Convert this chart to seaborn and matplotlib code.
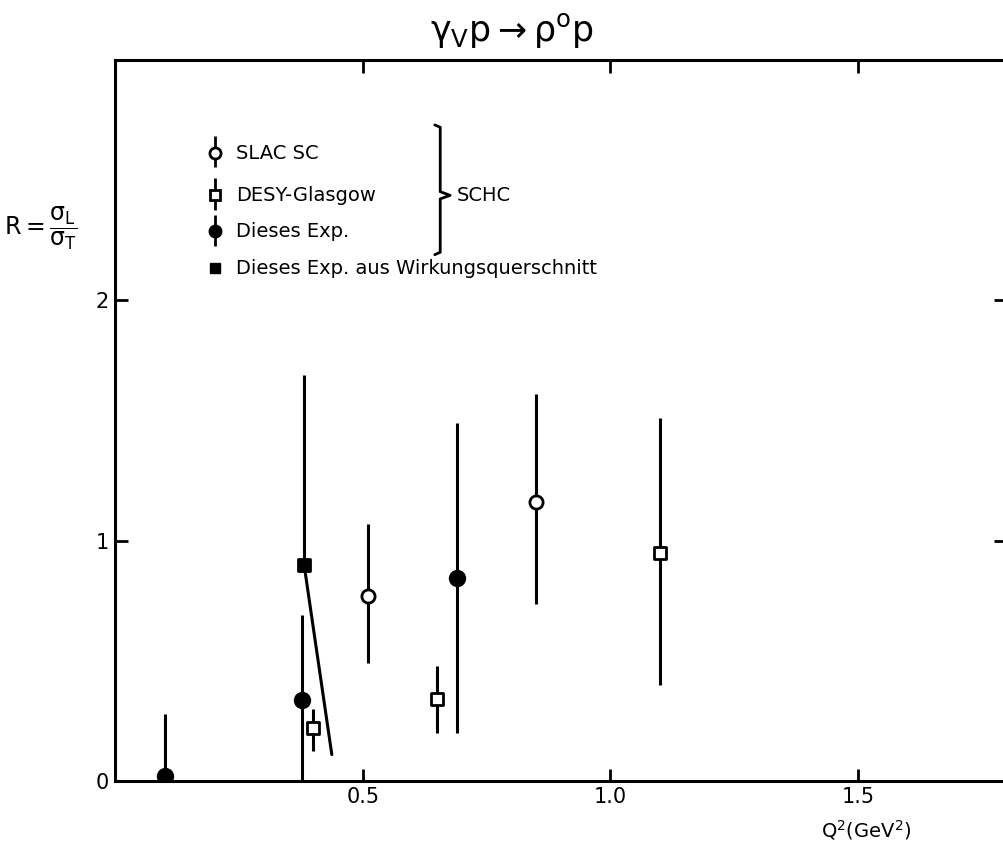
import numpy as np
import pandas as pd
import seaborn as sns
from matplotlib import pyplot as plt

# ---------------- data ----------------
slac_q2 = [0.51, 0.85]
slac_r = [0.77, 1.16]
slac_lo = [0.49, 0.735]
slac_hi = [1.07, 1.61]

desy_q2 = [0.40, 0.65, 1.10]
desy_r = [0.22, 0.34, 0.95]
desy_lo = [0.125, 0.20, 0.40]
desy_hi = [0.30, 0.48, 1.51]

exp_q2 = [0.10, 0.377, 0.69]
exp_r = [0.02, 0.335, 0.845]
exp_lo = [0.0, 0.0, 0.20]
exp_hi = [0.28, 0.69, 1.49]

wq_q2 = [0.381]
wq_r = [0.90]
wq_hi = [1.69]
# slanted line drawn from the filled square
wq_line_q2 = [0.381, 0.437]
wq_line_r = [0.90, 0.11]

x_ticks = [0.5, 1.0, 1.5]
x_labels = ['0.5', '1.0', '1.5']
y_ticks = [0, 1, 2]
y_labels = ['0', '1', '2']

sns.set_style("ticks")
plt.rcParams['font.family'] = ['DejaVu Sans']
plt.rcParams['mathtext.fontset'] = 'dejavusans'
plt.rcParams['mathtext.default'] = 'regular'
plt.rcParams['text.color'] = 'black'
plt.rcParams['axes.edgecolor'] = 'black'
plt.rcParams['xtick.color'] = 'black'
plt.rcParams['ytick.color'] = 'black'

fig = plt.figure(figsize=(10.04, 8.52), dpi=100)
ax = fig.add_axes([115.5 / 1004, 71 / 852, 891 / 1004, 721 / 852])


def draw_series(q2, r, lo, hi, marker, face, size, lw):
    ax.vlines(q2, lo, hi, color='black', linewidth=lw, zorder=2)
    df = pd.DataFrame({'q2': q2, 'r': r})
    sns.scatterplot(data=df, x='q2', y='r', marker=marker, s=size,
                    facecolor=face, edgecolor='black', linewidth=2,
                    ax=ax, zorder=3, legend=False)


draw_series(slac_q2, slac_r, slac_lo, slac_hi, 'o', 'white', 90, 2.2)
draw_series(desy_q2, desy_r, desy_lo, desy_hi, 's', 'white', 65, 2.2)
draw_series(exp_q2, exp_r, exp_lo, exp_hi, 'o', 'black', 110, 2.2)
draw_series(wq_q2, wq_r, wq_r, wq_hi, 's', 'black', 80, 2.2)
sns.lineplot(x=wq_line_q2, y=wq_line_r, color='black', linewidth=2.2,
             ax=ax, sort=False, zorder=2)

ax.set_xlim(0, 1.8)
ax.set_ylim(0, 3.0)
ax.set_xlabel('')
ax.set_ylabel('')

ax.set_xticks(x_ticks)
ax.set_xticklabels(x_labels)
ax.set_yticks(y_ticks)
ax.set_yticklabels(y_labels)
ax.tick_params(axis='both', direction='in', length=9, width=2,
               labelsize=15, top=True, right=True, pad=4,
               labelcolor='black')
ax.tick_params(axis='y', pad=5)
for sp in ax.spines.values():
    sp.set_linewidth(2.2)
    sp.set_color('black')

# legend block written by hand like in the original figure
leg_x = 0.201
txt_x = 0.243
rows = [2.613, 2.437, 2.287, 2.133]
ax.vlines(leg_x, rows[0] - 0.06, rows[0] + 0.07, color='black', linewidth=2)
ax.plot(leg_x, rows[0], 'o', ms=8, mfc='white', mec='black', mew=2)
ax.vlines(leg_x, rows[1] - 0.06, rows[1] + 0.07, color='black', linewidth=2)
ax.plot(leg_x, rows[1], 's', ms=7, mfc='white', mec='black', mew=2)
ax.vlines(leg_x, rows[2] - 0.06, rows[2] + 0.07, color='black', linewidth=2)
ax.plot(leg_x, rows[2], 'o', ms=9, mfc='black', mec='black')
ax.plot(leg_x, rows[3], 's', ms=7, mfc='black', mec='black')

names = ['SLAC SC', 'DESY-Glasgow', 'Dieses Exp.', 'Dieses Exp. aus Wirkungsquerschnitt']
for yy, name in zip(rows, names):
    ax.text(txt_x, yy, name, fontsize=14, va='center', ha='left')

bx = [0.645, 0.656, 0.656, 0.676, 0.656, 0.656, 0.645]
by = [2.73, 2.72, 2.452, 2.437, 2.422, 2.20, 2.19]
ax.plot(bx, by, color='black', linewidth=2)
ax.text(0.69, rows[1], 'SCHC', fontsize=14, va='center', ha='left')

fig.text(512 / 1004, 1 - 30 / 852,
         r'$\gamma_V p \rightarrow \rho^o p$',
         fontsize=25, ha='center', va='center')
fig.text(4 / 1004, 1 - 228 / 852, r'$R=\dfrac{\sigma_L}{\sigma_T}$',
         fontsize=17, ha='left', va='center')
fig.text(866 / 1004, 1 - 830 / 852, r'Q$^2$(GeV$^2$)',
         fontsize=14, ha='center', va='center')

plt.savefig('out.png', dpi=100)
